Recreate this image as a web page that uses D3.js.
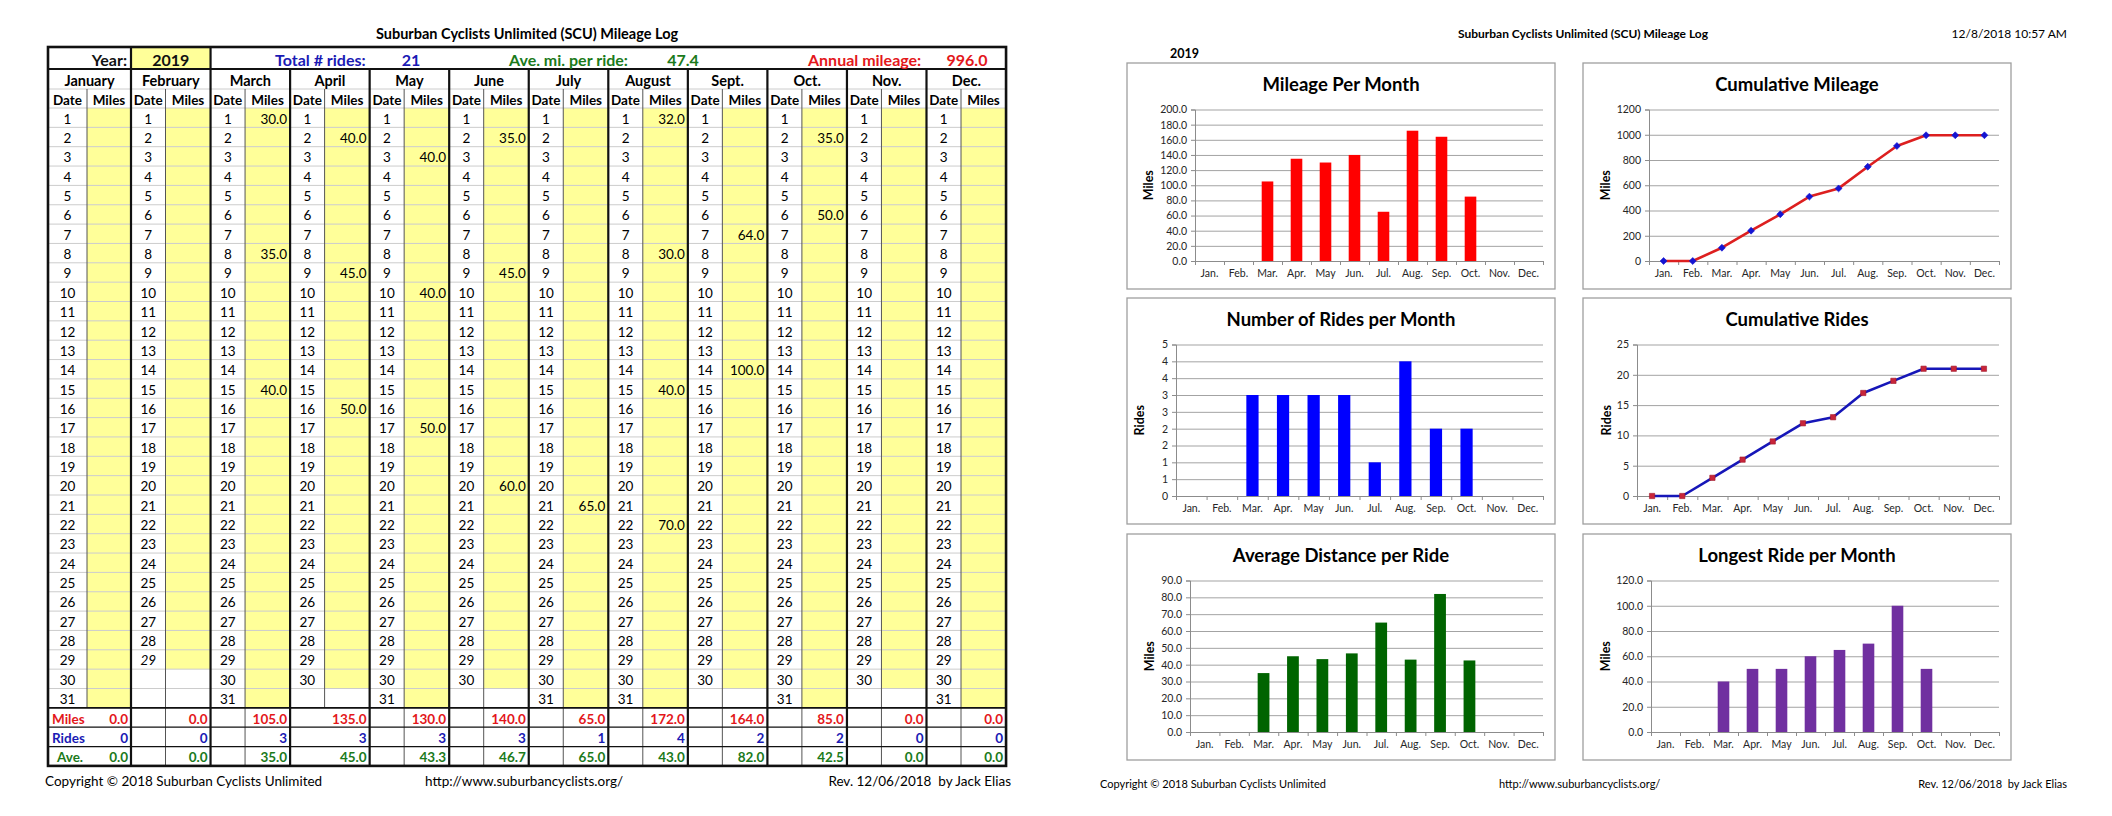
<!DOCTYPE html>
<html>
<head>
<meta charset="utf-8">
<script src="https://cdn.jsdelivr.net/npm/d3@7"></script>
<style>
  body { margin: 0; background: #fff; }
  svg { display: block; font-family: Lato, 'Open Sans', sans-serif; }
</style>
</head>
<body>
<svg id="page" width="2112" height="816"></svg>
<script>
// ---- data ----
const logYear = 2019;
const monthNames = ['January', 'February', 'March', 'April', 'May', 'June', 'July', 'August', 'Sept.', 'Oct.', 'Nov.', 'Dec.'];
const monthShort = ['Jan.', 'Feb.', 'Mar.', 'Apr.', 'May', 'Jun.', 'Jul.', 'Aug.', 'Sep.', 'Oct.', 'Nov.', 'Dec.'];
const daysInMonth = [31, 29, 31, 30, 31, 30, 31, 31, 30, 31, 30, 31];

// [month index, date, miles]
const rideLog = [
  [2, 1, 30], [2, 8, 35], [2, 15, 40],
  [3, 2, 40], [3, 9, 45], [3, 16, 50],
  [4, 3, 40], [4, 10, 40], [4, 17, 50],
  [5, 2, 35], [5, 9, 45], [5, 20, 60],
  [6, 21, 65],
  [7, 1, 32], [7, 8, 30], [7, 15, 40], [7, 22, 70],
  [8, 7, 64], [8, 14, 100],
  [9, 2, 35], [9, 6, 50]
];

const monthMiles = [0, 0, 105, 135, 130, 140, 65, 172, 164, 85, 0, 0];
const monthRides = [0, 0, 3, 3, 3, 3, 1, 4, 2, 2, 0, 0];
const monthAve = [0, 0, 35.0, 45.0, 43.3, 46.7, 65.0, 43.0, 82.0, 42.5, 0, 0];
const cumMiles = [0, 0, 105, 240, 370, 510, 575, 747, 911, 996, 996, 996];
const cumRides = [0, 0, 3, 6, 9, 12, 13, 17, 19, 21, 21, 21];
const longestRide = [0, 0, 40, 50, 50, 60, 65, 70, 100, 50, 0, 0];

const totalRides = 21;
const aveMiPerRide = 47.4;
const annualMileage = 996.0;

const milesTicks = [0, 20, 40, 60, 80, 100, 120, 140, 160, 180, 200];
const cumMilesTicks = [0, 200, 400, 600, 800, 1000, 1200];
const ridesTicks = [0, 0.5, 1, 1.5, 2, 2.5, 3, 3.5, 4, 4.5];
const cumRidesTicks = [0, 5, 10, 15, 20, 25];
const aveTicks = [0, 10, 20, 30, 40, 50, 60, 70, 80, 90];
const longestTicks = [0, 20, 40, 60, 80, 100, 120];

const RED = '#e3171b', BLUE = '#1a1ab4', GREEN = '#1b7a1b';

let svg = d3.select('#page');

// =========================== left page: the log table ===========================
let T = svg.append('g');

const tableLeft = 48, tableTop = 47, janW = 83, monW = 79.55;
const yearRowH = 22, monthRowH = 20, headRowH = 19, rowH = 19.35;
const dataTop = tableTop + yearRowH + monthRowH + headRowH;
const monthX = (i) => (i === 0 ? tableLeft : tableLeft + janW + (i - 1) * monW);
const monthW = (i) => (i === 0 ? janW : monW);
const dateW = (i) => (i === 0 ? 39 : 34.5);
const rowTop = (r) => dataTop + r * rowH;
const tableRight = monthX(11) + monW;
const tableBottom = rowTop(34);

T.append('text')
  .attr('x', (tableLeft + tableRight) / 2).attr('y', 33)
  .attr('text-anchor', 'middle').attr('dominant-baseline', 'central')
  .style('font-weight', 'bold').style('font-size', '14.5px')
  .text('Suburban Cyclists Unlimited (SCU) Mileage Log');

// cells for every month/date
let cells = [];
monthNames.forEach((m, i) => {
  for (let d = 1; d <= 31; d++) cells.push({ m: i, d: d });
});

// yellow entry cells
T.append('g').selectAll('rect')
  .data(cells.filter((c) => c.d <= daysInMonth[c.m]))
  .enter().append('rect')
  .attr('x', (c) => monthX(c.m) + dateW(c.m))
  .attr('y', (c) => rowTop(c.d - 1))
  .attr('width', (c) => monthW(c.m) - dateW(c.m))
  .attr('height', rowH)
  .attr('fill', '#ffff99');

// year cell
T.append('rect')
  .attr('x', monthX(1)).attr('y', tableTop)
  .attr('width', monW).attr('height', yearRowH)
  .attr('fill', '#ffff99');

// light row rules
T.append('g').selectAll('line')
  .data(d3.range(0, 32))
  .enter().append('line')
  .attr('x1', tableLeft).attr('x2', tableRight)
  .attr('y1', (r) => rowTop(r)).attr('y2', (r) => rowTop(r))
  .attr('stroke', '#cccccc').attr('stroke-width', 1);
T.append('line')
  .attr('x1', tableLeft).attr('x2', tableRight)
  .attr('y1', tableTop + yearRowH + monthRowH).attr('y2', tableTop + yearRowH + monthRowH)
  .attr('stroke', '#cccccc');

// date / miles separators
T.append('g').selectAll('line')
  .data(d3.range(12))
  .enter().append('line')
  .attr('x1', (i) => monthX(i) + dateW(i)).attr('x2', (i) => monthX(i) + dateW(i))
  .attr('y1', tableTop + yearRowH + monthRowH)
  .attr('y2', (i) => (i === 0 || i === 3 ? rowTop(31) : tableBottom))
  .attr('stroke', '#555').attr('stroke-width', 1);

// summary rules
T.append('g').selectAll('line')
  .data([31, 32, 33])
  .enter().append('line')
  .attr('x1', tableLeft).attr('x2', tableRight)
  .attr('y1', (r) => rowTop(r)).attr('y2', (r) => rowTop(r))
  .attr('stroke', '#111').attr('stroke-width', (r) => (r === 31 ? 1.6 : 1.2));

// month separators
T.append('g').selectAll('line')
  .data(d3.range(1, 12))
  .enter().append('line')
  .attr('x1', (i) => monthX(i)).attr('x2', (i) => monthX(i))
  .attr('y1', (i) => (i <= 2 ? tableTop : tableTop + yearRowH))
  .attr('y2', tableBottom)
  .attr('stroke', '#111').attr('stroke-width', 2.2);

T.append('line')
  .attr('x1', tableLeft).attr('x2', tableRight)
  .attr('y1', tableTop + yearRowH).attr('y2', tableTop + yearRowH)
  .attr('stroke', '#111').attr('stroke-width', 2);

T.append('rect')
  .attr('x', tableLeft).attr('y', tableTop)
  .attr('width', tableRight - tableLeft).attr('height', tableBottom - tableTop)
  .attr('fill', 'none').attr('stroke', '#111').attr('stroke-width', 2.6);

// header row
const yearRowY = tableTop + yearRowH / 2 + 1;
let headerTexts = [
  { x: monthX(1) - 4, anchor: 'end', text: 'Year:', color: '#111' },
  { x: monthX(1) + monW / 2, anchor: 'middle', text: String(logYear), color: '#111' },
  { x: 275, anchor: 'start', text: 'Total # rides:', color: BLUE },
  { x: 411, anchor: 'middle', text: String(totalRides), color: BLUE },
  { x: 509, anchor: 'start', text: 'Ave. mi. per ride:', color: GREEN },
  { x: 683, anchor: 'middle', text: d3.format('.1f')(aveMiPerRide), color: GREEN },
  { x: 808, anchor: 'start', text: 'Annual mileage:', color: RED },
  { x: 967, anchor: 'middle', text: d3.format('.1f')(annualMileage), color: RED }
];
T.append('g').selectAll('text')
  .data(headerTexts)
  .enter().append('text')
  .attr('x', (d) => d.x).attr('y', yearRowY)
  .attr('text-anchor', (d) => d.anchor).attr('dominant-baseline', 'central')
  .attr('fill', (d) => d.color)
  .style('font-weight', 'bold').style('font-size', '16px')
  .text((d) => d.text);

// month names
T.append('g').selectAll('text')
  .data(monthNames)
  .enter().append('text')
  .attr('x', (d, i) => monthX(i) + monthW(i) / 2)
  .attr('y', tableTop + yearRowH + monthRowH / 2 + 1)
  .attr('text-anchor', 'middle').attr('dominant-baseline', 'central')
  .style('font-weight', 'bold').style('font-size', '14.5px')
  .text((d) => d);

// Date / Miles headings
let heads = [];
monthNames.forEach((m, i) => {
  heads.push({ x: monthX(i) + dateW(i) / 2, text: 'Date' });
  heads.push({ x: monthX(i) + dateW(i) + (monthW(i) - dateW(i)) / 2, text: 'Miles' });
});
T.append('g').selectAll('text')
  .data(heads)
  .enter().append('text')
  .attr('x', (d) => d.x)
  .attr('y', tableTop + yearRowH + monthRowH + headRowH / 2 + 1)
  .attr('text-anchor', 'middle').attr('dominant-baseline', 'central')
  .style('font-weight', 'bold').style('font-size', '13.5px')
  .text((d) => d.text);

// dates
T.append('g').selectAll('text')
  .data(cells.filter((c) => c.d <= daysInMonth[c.m]))
  .enter().append('text')
  .attr('x', (c) => monthX(c.m) + dateW(c.m) / 2)
  .attr('y', (c) => rowTop(c.d - 1) + rowH / 2 + 1)
  .attr('text-anchor', 'middle').attr('dominant-baseline', 'central')
  .style('font-size', '13.5px')
  .style('font-style', (c) => (c.m === 1 && c.d === 29 ? 'italic' : 'normal'))
  .text((c) => c.d);

// ride entries
T.append('g').selectAll('text')
  .data(rideLog)
  .enter().append('text')
  .attr('x', (r) => monthX(r[0]) + monthW(r[0]) - 3)
  .attr('y', (r) => rowTop(r[1] - 1) + rowH / 2 + 1)
  .attr('text-anchor', 'end').attr('dominant-baseline', 'central')
  .style('font-size', '13.5px')
  .text((r) => d3.format('.1f')(r[2]));

// summary rows
let summaryRows = [
  { label: 'Miles', values: monthMiles, fmt: d3.format('.1f'), color: RED, lx: 52, anchor: 'start' },
  { label: 'Rides', values: monthRides, fmt: d3.format('d'), color: BLUE, lx: 52, anchor: 'start' },
  { label: 'Ave.', values: monthAve, fmt: d3.format('.1f'), color: GREEN, lx: 70, anchor: 'middle' }
];
summaryRows.forEach((s, k) => {
  let cy = rowTop(31 + k) + rowH / 2 + 1;
  T.append('text')
    .attr('x', s.lx).attr('y', cy)
    .attr('text-anchor', s.anchor).attr('dominant-baseline', 'central')
    .attr('fill', s.color)
    .style('font-weight', 'bold').style('font-size', '13.5px')
    .text(s.label);
  T.append('g').selectAll('text')
    .data(s.values)
    .enter().append('text')
    .attr('x', (v, i) => monthX(i) + monthW(i) - 3)
    .attr('y', cy)
    .attr('text-anchor', 'end').attr('dominant-baseline', 'central')
    .attr('fill', s.color)
    .style('font-weight', 'bold').style('font-size', '13.5px')
    .text((v) => s.fmt(v));
});

// footer
let leftFooter = [
  { x: 45, anchor: 'start', text: 'Copyright © 2018 Suburban Cyclists Unlimited' },
  { x: 425, anchor: 'start', text: 'http://www.suburbancyclists.org/' },
  { x: 1011, anchor: 'end', text: 'Rev. 12/06/2018  by Jack Elias' }
];
T.append('g').selectAll('text')
  .data(leftFooter)
  .enter().append('text')
  .attr('x', (d) => d.x).attr('y', 781)
  .attr('text-anchor', (d) => d.anchor).attr('dominant-baseline', 'central')
  .style('font-size', '13.5px').style('white-space', 'pre')
  .text((d) => d.text);

// =========================== right page: the charts ===========================
let P = svg.append('g');

P.append('text')
  .attr('x', 1583).attr('y', 33)
  .attr('text-anchor', 'middle').attr('dominant-baseline', 'central')
  .style('font-weight', 'bold').style('font-size', '12px')
  .text('Suburban Cyclists Unlimited (SCU) Mileage Log');
P.append('text')
  .attr('x', 2067).attr('y', 33)
  .attr('text-anchor', 'end').attr('dominant-baseline', 'central')
  .style('font-size', '12px')
  .text('12/8/2018 10:57 AM');
P.append('text')
  .attr('x', 1170).attr('y', 53)
  .attr('dominant-baseline', 'central')
  .style('font-weight', 'bold').style('font-size', '12.5px')
  .text(String(logYear));

let rightFooter = [
  { x: 1100, anchor: 'start', text: 'Copyright © 2018 Suburban Cyclists Unlimited' },
  { x: 1499, anchor: 'start', text: 'http://www.suburbancyclists.org/' },
  { x: 2067, anchor: 'end', text: 'Rev. 12/06/2018  by Jack Elias' }
];
P.append('g').selectAll('text')
  .data(rightFooter)
  .enter().append('text')
  .attr('x', (d) => d.x).attr('y', 783)
  .attr('text-anchor', (d) => d.anchor).attr('dominant-baseline', 'central')
  .style('font-size', '11px').style('white-space', 'pre')
  .text((d) => d.text);

const roundHalfUp = (v) => String(Math.floor(v + 0.5));

let charts = [
  { title: 'Mileage Per Month', axis: 'Miles', kind: 'bar', values: monthMiles, ticks: milesTicks,
    fmt: d3.format('.1f'), color: '#ff0000', col: 0, row: 0, left: 68, axisX: 21 },
  { title: 'Cumulative Mileage', axis: 'Miles', kind: 'line', values: cumMiles, ticks: cumMilesTicks,
    fmt: d3.format('d'), color: '#dd1f1f', marker: 'diamond', markerColor: '#1414d2', col: 1, row: 0, left: 66, axisX: 22 },
  { title: 'Number of Rides per Month', axis: 'Rides', kind: 'bar', values: monthRides, ticks: ridesTicks,
    fmt: roundHalfUp, color: '#0000ff', col: 0, row: 1, left: 49, axisX: 12 },
  { title: 'Cumulative Rides', axis: 'Rides', kind: 'line', values: cumRides, ticks: cumRidesTicks,
    fmt: d3.format('d'), color: '#1616b8', marker: 'square', markerColor: '#c8253a', col: 1, row: 1, left: 54, axisX: 23 },
  { title: 'Average Distance per Ride', axis: 'Miles', kind: 'bar', values: monthAve, ticks: aveTicks,
    fmt: d3.format('.1f'), color: '#006400', col: 0, row: 2, left: 63, axisX: 22 },
  { title: 'Longest Ride per Month', axis: 'Miles', kind: 'bar', values: longestRide, ticks: longestTicks,
    fmt: d3.format('.1f'), color: '#7030a0', col: 1, row: 2, left: 68, axisX: 22 }
];

const boxLeft = [1127, 1583];
const boxTop = [63, 298, 534];
const boxW = 428, boxH = 226;

charts.forEach((c) => {
  let bx = boxLeft[c.col], by = boxTop[c.row];
  let g = P.append('g').attr('transform', 'translate(' + bx + ',' + by + ')');

  g.append('rect')
    .attr('x', 0).attr('y', 0).attr('width', boxW).attr('height', boxH)
    .attr('fill', '#fff').attr('stroke', '#9f9f9f').attr('stroke-width', 1.3);

  g.append('text')
    .attr('x', boxW / 2).attr('y', 21)
    .attr('text-anchor', 'middle').attr('dominant-baseline', 'central')
    .style('font-weight', 'bold').style('font-size', '18.5px')
    .text(c.title);

  let top = 46.5, bottom = 198, left = c.left, right = boxW - 12;

  let x = d3.scaleBand().domain(d3.range(12)).range([left, right]).padding(0);
  let y = d3.scaleLinear().domain([0, c.ticks[c.ticks.length - 1]]).range([bottom, top]);

  // gridlines
  g.append('g')
    .attr('transform', 'translate(' + left + ',0)')
    .call(d3.axisLeft(y).tickValues(c.ticks).tickSize(-(right - left)).tickFormat(''))
    .call((a) => a.select('.domain').remove())
    .call((a) => a.selectAll('line').attr('stroke', '#a3a3a3').attr('stroke-width', 1));

  // y axis
  let ya = g.append('g')
    .attr('transform', 'translate(' + left + ',0)')
    .call(d3.axisLeft(y).tickValues(c.ticks).tickSize(4).tickPadding(4).tickFormat(c.fmt));
  ya.select('.domain').attr('stroke', '#8c8c8c');
  ya.selectAll('line').attr('stroke', '#8c8c8c');
  ya.selectAll('text').attr('fill', '#262626').style('font-size', '10.5px').style('font-family', 'Lato, sans-serif');

  // x axis: boundary ticks, labels in band centres
  let xt = d3.scaleLinear().domain([0, 12]).range([left, right]);
  let xa = g.append('g')
    .attr('transform', 'translate(0,' + bottom + ')')
    .call(d3.axisBottom(xt).tickValues(d3.range(13)).tickSize(4).tickFormat(''));
  xa.select('.domain').attr('stroke', '#8c8c8c');
  xa.selectAll('line').attr('stroke', '#8c8c8c');

  let xl = g.append('g')
    .attr('transform', 'translate(0,' + bottom + ')')
    .call(d3.axisBottom(x).tickSize(0).tickPadding(9).tickFormat((i) => monthShort[i]));
  xl.select('.domain').remove();
  xl.selectAll('text').attr('fill', '#262626').style('font-size', '10.5px').style('font-family', 'Lato, sans-serif');

  // axis title
  g.append('text')
    .attr('transform', 'translate(' + c.axisX + ',' + (top + bottom) / 2 + ') rotate(-90)')
    .attr('text-anchor', 'middle').attr('dominant-baseline', 'central')
    .style('font-weight', 'bold').style('font-size', '12.5px')
    .text(c.axis);

  if (c.kind === 'bar') {
    let bw = x.bandwidth() / 2.5;
    g.append('g').selectAll('rect')
      .data(c.values)
      .enter().append('rect')
      .attr('x', (v, i) => x(i) + (x.bandwidth() - bw) / 2)
      .attr('y', (v) => y(v))
      .attr('width', bw)
      .attr('height', (v) => bottom - y(v))
      .attr('fill', c.color);
  } else {
    let line = d3.line()
      .x((v, i) => x(i) + x.bandwidth() / 2)
      .y((v) => y(v));
    g.append('path')
      .datum(c.values)
      .attr('d', line)
      .attr('fill', 'none')
      .attr('stroke', c.color)
      .attr('stroke-width', 2.6)
      .attr('stroke-linejoin', 'round');
    let sym = d3.symbol().type(d3.symbolSquare).size(c.marker === 'diamond' ? 24 : 28);
    g.append('g').selectAll('path')
      .data(c.values)
      .enter().append('path')
      .attr('d', sym)
      .attr('transform', (v, i) => 'translate(' + (x(i) + x.bandwidth() / 2) + ',' + y(v) + ')' +
        (c.marker === 'diamond' ? ' rotate(45)' : ''))
      .attr('fill', c.markerColor)
      .attr('stroke', c.marker === 'diamond' ? c.markerColor : '#a01828')
      .attr('stroke-width', 0.6);
  }
});
</script>
</body>
</html>
